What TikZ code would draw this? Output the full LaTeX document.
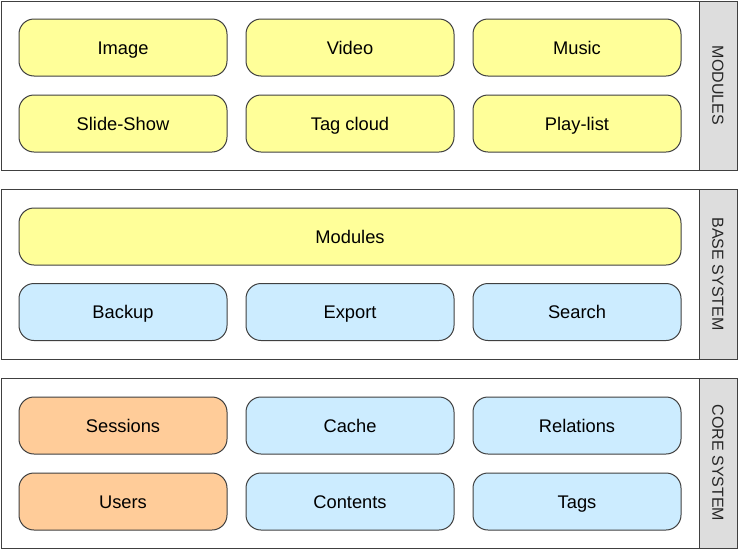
\documentclass[tikz,border=0pt]{standalone}
\usepackage{fontspec}
\setmainfont{Liberation Sans}
\definecolor{boxyellow}{HTML}{FFFF99}
\definecolor{boxblue}{HTML}{CCECFF}
\definecolor{boxorange}{HTML}{FFCC99}
\definecolor{stripgray}{HTML}{DDDDDD}
\definecolor{edgegray}{HTML}{404040}
\tikzset{
  panel/.style={draw=edgegray, line width=1pt, fill=white},
  strip/.style={draw=edgegray, line width=1pt, fill=stripgray},
  striplabel/.style={rotate=-90, font=\fontsize{16}{18}\selectfont, text=black!85, inner sep=0pt, text height=11.5pt, text depth=0pt},
  mbox/.style={draw=edgegray, line width=1pt, rounded corners=15pt, minimum width=208pt, minimum height=57pt, font=\fontsize{18.3}{20}\selectfont, inner sep=0pt, text height=13.1pt, text depth=0pt},
  ybox/.style={mbox, fill=boxyellow},
  bbox/.style={mbox, fill=boxblue},
  obox/.style={mbox, fill=boxorange}
}
\begin{document}
\begin{tikzpicture}[x=1pt,y=-1pt]
\useasboundingbox (0,0) rectangle (738,549);
% panels
\draw[panel] (1,1) rectangle (737,170);
\draw[strip] (699,1) rectangle (737,170);
\node[striplabel] (l1) at (718,85.5) {MODULES};
\draw[panel] (1,189) rectangle (737,359);
\draw[strip] (699,189) rectangle (737,359);
\node[striplabel] (l2) at (718,274) {BASE SYSTEM};
\draw[panel] (1,378) rectangle (737,548);
\draw[strip] (699,378) rectangle (737,548);
\node[striplabel] (l3) at (718,463) {CORE SYSTEM};
% modules
\node[ybox] (image) at (123,47.5) {Image};
\node[ybox] (video) at (350,47.5) {Video};
\node[ybox] (music) at (577,47.5) {Music};
\node[ybox] (slide) at (123,123.5) {Slide-Show};
\node[ybox] (tag) at (350,123.5) {Tag cloud};
\node[ybox] (play) at (577,123.5) {Play-list};
% base
\node[ybox, minimum width=662pt] (modules) at (350,236.5) {Modules};
\node[bbox] (backup) at (123,312) {Backup};
\node[bbox] (export) at (350,312) {Export};
\node[bbox] (search) at (577,312) {Search};
% core
\node[obox] (sessions) at (123,425.5) {Sessions};
\node[bbox] (cache) at (350,425.5) {Cache};
\node[bbox] (relations) at (577,425.5) {Relations};
\node[obox] (users) at (123,501.5) {Users};
\node[bbox] (contents) at (350,501.5) {Contents};
\node[bbox] (tags) at (577,501.5) {Tags};
\end{tikzpicture}
\end{document}
